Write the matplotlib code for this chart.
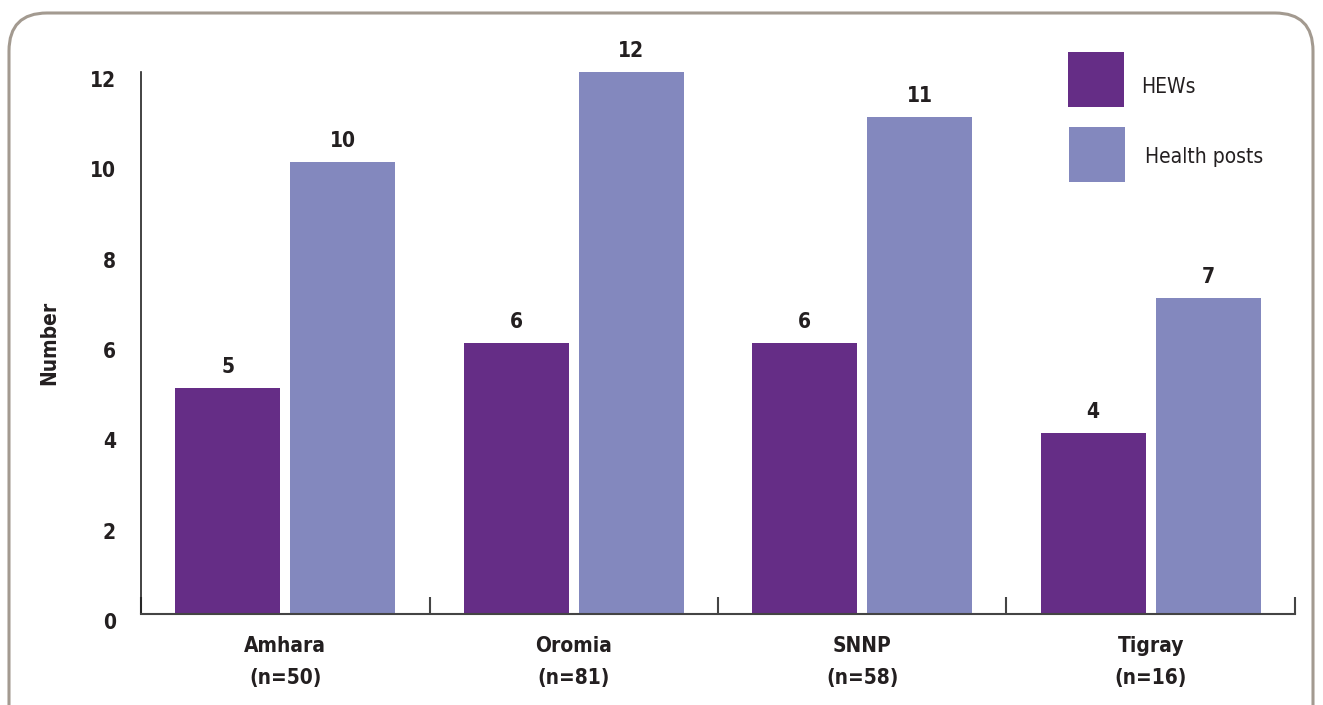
import numpy as np
import matplotlib
matplotlib.use('Agg')
import matplotlib.pyplot as plt
import matplotlib.patches as patches
import matplotlib.transforms as mtransforms

plt.rcParams['font.family'] = ['Liberation Sans Narrow', 'DejaVu Sans']
plt.rcParams['font.stretch'] = 'condensed'

# data
regions = ['Amhara\n(n=50)', 'Oromia\n(n=81)', 'SNNP\n(n=58)', 'Tigray\n(n=16)']
hews = [5, 6, 6, 4]
health_posts = [10, 12, 11, 7]
series_names = ['HEWs', 'Health posts']
yticks = [0, 2, 4, 6, 8, 10, 12]

C_HEW = '#652D86'
C_HP = '#8388BE'
TXT = '#231F20'

fig = plt.figure(figsize=(13.23, 7.05), dpi=100)
ax = fig.add_axes([0.1066, 0.1291, 0.8722, 0.7688])

x = np.arange(len(regions)) + 0.5
w = 0.364
ax.bar(x - 0.2, hews, width=w, color=C_HEW)
ax.bar(x + 0.2, health_posts, width=w, color=C_HP)

for xi, v in zip(x - 0.2, hews):
    ax.text(xi, v + 0.25, str(v), ha='center', va='bottom', fontsize=15,
            fontweight='bold', color=TXT)
for xi, v in zip(x + 0.2, health_posts):
    ax.text(xi, v + 0.25, str(v), ha='center', va='bottom', fontsize=15,
            fontweight='bold', color=TXT)

ax.set_xlim(0, len(regions))
ax.set_ylim(0, 12)
ax.set_yticks(yticks)
ax.set_yticklabels([str(t) for t in yticks], fontsize=15, fontweight='bold', color=TXT)
ax.tick_params(axis='y', length=0, pad=18)
# tick labels sit a little below their gridline in the original
shift = mtransforms.ScaledTranslation(0, -0.07, fig.dpi_scale_trans)
for lab in ax.get_yticklabels():
    lab.set_transform(lab.get_transform() + shift)

# category boundaries as ticks, labels at centers
ax.set_xticks(np.arange(len(regions) + 1))
ax.set_xticklabels([''] * (len(regions) + 1))
ax.tick_params(axis='x', which='major', direction='in', length=12, width=1.5, color='#444444')
ax.set_xticks(x, minor=True)
ax.set_xticklabels(regions, minor=True, fontsize=15, fontweight='bold', color=TXT,
                   linespacing=1.75)
ax.tick_params(axis='x', which='minor', length=0, pad=16)

for s in ['top', 'right']:
    ax.spines[s].set_visible(False)
ax.spines['left'].set_color('#222222')
ax.spines['left'].set_linewidth(1.2)
ax.spines['bottom'].set_color('#444444')
ax.spines['bottom'].set_linewidth(1.5)

ax.set_ylabel('Number', fontsize=15, fontweight='bold', color=TXT, labelpad=22)

# legend drawn by hand
lx, lw_, lh = 1068 / 1323, 56 / 1323, 55 / 705
fig.patches.append(patches.Rectangle((lx, 1 - 107 / 705), lw_, lh, transform=fig.transFigure,
                                     facecolor=C_HEW, edgecolor='none'))
fig.patches.append(patches.Rectangle((lx + 1 / 1323, 1 - 182 / 705), lw_, lh, transform=fig.transFigure,
                                     facecolor=C_HP, edgecolor='none'))
fig.text(1141 / 1323, 1 - 87 / 705, series_names[0], fontsize=15, color=TXT, va='center', ha='left')
fig.text(1145 / 1323, 1 - 157 / 705, series_names[1], fontsize=15, color=TXT, va='center', ha='left')

# rounded frame
frame = patches.FancyBboxPatch((0.09, -0.4), 13.04, 7.32, boxstyle='round,pad=0,rounding_size=0.38',
                               transform=fig.dpi_scale_trans, facecolor='none',
                               edgecolor='#A39A90', linewidth=2.2, clip_on=False)
fig.patches.append(frame)

fig.savefig('out.png', dpi=100, facecolor='white')
